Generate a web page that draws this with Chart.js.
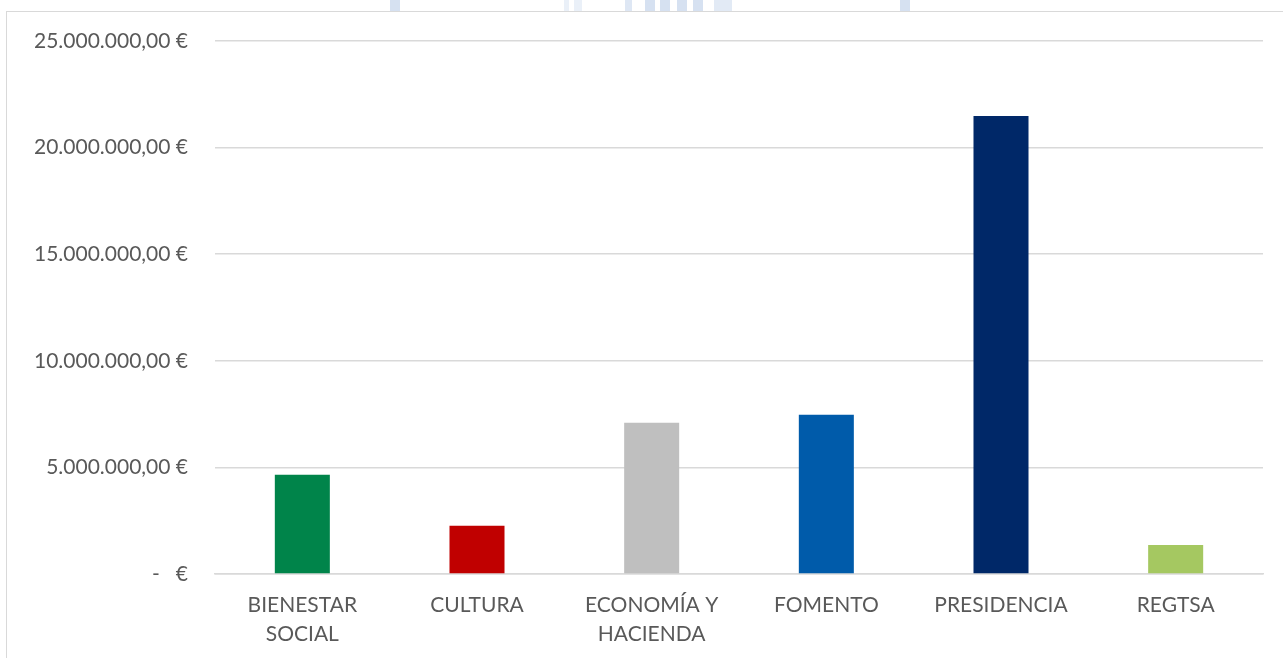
<!DOCTYPE html>
<html>
<head>
<meta charset="utf-8">
<script src="https://cdn.jsdelivr.net/npm/chart.js@4.4.1/dist/chart.umd.min.js"></script>
<style>
  html, body { margin: 0; padding: 0; background: #fff; overflow: hidden; }
  #wrap { position: relative; width: 1283px; height: 658px; }
  #frame { position: absolute; left: 6px; top: 11px; width: 1400px; height: 800px; border: 1.5px solid #d9d9d9; }
  .wm { position: absolute; top: 0; height: 11px; background: #d6e1f1; }
  #myBar { position: absolute; left: 0; top: 0; }
</style>
</head>
<body>
<div id="wrap">
  <div class="wm" style="left:390px;width:10px"></div>
  <div class="wm" style="left:564px;width:5px;opacity:.5"></div>
  <div class="wm" style="left:574px;width:8px;opacity:.5"></div>
  <div class="wm" style="left:625px;width:7px;opacity:.8"></div>
  <div class="wm" style="left:645px;width:10px"></div>
  <div class="wm" style="left:660px;width:10px"></div>
  <div class="wm" style="left:677px;width:10px"></div>
  <div class="wm" style="left:693px;width:10px"></div>
  <div class="wm" style="left:714px;width:18px;opacity:.7"></div>
  <div class="wm" style="left:900px;width:10px"></div>
  <div id="frame"></div>
  <canvas id="myBar" width="1283" height="658"></canvas>
</div>
<script>
const categories = [['BIENESTAR', 'SOCIAL'], 'CULTURA', ['ECONOMÍA Y', 'HACIENDA'], 'FOMENTO', 'PRESIDENCIA', 'REGTSA']
const amounts = [4650000, 2260000, 7100000, 7470000, 21480000, 1360000]
const barColors = ['#00844A', '#C00000', '#BFBFBF', '#005BAA', '#002868', '#A5C861']
const yTicks = [0, 5000000, 10000000, 15000000, 20000000, 25000000]

// formato contable: 25.000.000,00 €  /  -   €
function euro(v) {
    if (v === 0) return '-   €'
    let s = v.toFixed(2).split('.')
    let ent = s[0].replace(/\B(?=(\d{3})+(?!\d))/g, '.')
    return ent + ',' + s[1] + ' €'
}

let fontFam = 'Lato, "Open Sans", sans-serif'

let ctx = document.querySelector('#myBar').getContext('2d')
let myBarChart = new Chart(ctx, {
    type: 'bar',
    data: {
        labels: categories,
        datasets: [{
            data: amounts,
            backgroundColor: barColors,
            barPercentage: 0.315,
            categoryPercentage: 1
        }]
    },
    options: {
        responsive: false,
        animation: false,
        devicePixelRatio: 1,
        layout: { padding: { top: 41, right: 20, bottom: 0, left: 0 } },
        plugins: { legend: { display: false }, tooltip: { enabled: false } },
        scales: {
            x: {
                grid: { display: false, drawTicks: false },
                border: { color: '#d9d9d9', width: 1.5 },
                ticks: {
                    color: '#595959',
                    font: { family: fontFam, size: 21, lineHeight: 1.37 },
                    padding: 17,
                    maxRotation: 0,
                    autoSkip: false
                },
                afterFit: (scale) => { scale.height = 84 }
            },
            y: {
                min: 0,
                max: 25000000,
                afterBuildTicks: (scale) => { scale.ticks = yTicks.map(v => ({value: v})) },
                grid: { color: '#d9d9d9', lineWidth: 1.5, drawTicks: false },
                border: { display: false },
                ticks: {
                    color: '#595959',
                    font: { family: fontFam, size: 21 },
                    padding: 27,
                    callback: (v) => euro(v)
                },
                afterFit: (scale) => { scale.width = 215 }
            }
        }
    }
})
</script>
</body>
</html>
